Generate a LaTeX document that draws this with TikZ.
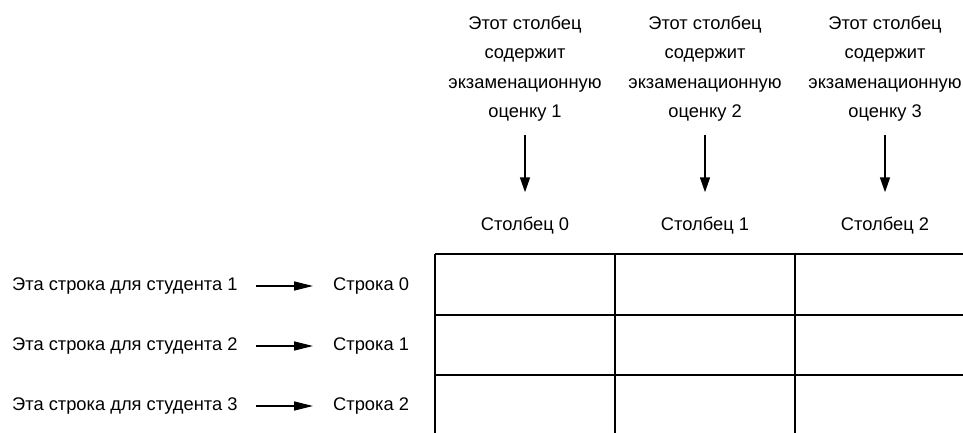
\documentclass[tikz,border=0pt]{standalone}
\usepackage{fontspec}
\setmainfont{Liberation Sans}
\usetikzlibrary{positioning,arrows.meta}
\definecolor{ink}{HTML}{000000}
\newcommand{\lbl}{\fontsize{18.3}{29.3}\selectfont}

\begin{document}
\begin{tikzpicture}[
  x=1pt, y=-1pt, text=ink, font=\lbl,
  txt/.style={inner sep=0pt, align=center},
  arr/.style={-{Triangle[length=15pt, width=10pt]}, line width=1.6pt, draw=ink},
  harr/.style={arr, -{Triangle[length=19pt, width=9pt]}},
  grd/.style={line width=1.4pt, draw=ink},
]
\useasboundingbox (0,0) rectangle (963,432);
% ---------------- column captions and headers ----------------
\foreach \i/\x in {0/525,1/705,2/885} {
  \pgfmathtruncatemacro{\n}{\i+1}
  \node[txt, anchor=north] (cap\i) at (\x,16) {Этот столбец\\содержит\\экзаменационную\\оценку \n};
  \node[txt] (col\i) at (\x,226) {Столбец \i};
  \draw[arr, shorten <=13pt, shorten >=25pt] (cap\i.south) -- (col\i.north);
}
% ---------------- row captions and labels ----------------
\foreach \i/\y in {0/286,1/346,2/406} {
  \pgfmathtruncatemacro{\n}{\i+1}
  \node[txt, anchor=west] (stu\i) at (12,\y) {Эта строка для студента \n};
  \node[txt, anchor=west] (row\i) at (333,\y) {Строка \i};
  \draw[harr, shorten <=18pt, shorten >=20pt] (stu\i.east) -- (row\i.west);
}
% ---------------- table (cut off at the right and bottom) ----------------
\begin{scope}
\clip (0,0) rectangle (963,432);
\coordinate (tbl) at (435,254);
\foreach \y in {254,315,375,435} \draw[grd] (435,\y) -- (975,\y);
\foreach \x in {435,615,795,975} \draw[grd] (\x,254) -- (\x,440);
\end{scope}
\end{tikzpicture}
\end{document}
